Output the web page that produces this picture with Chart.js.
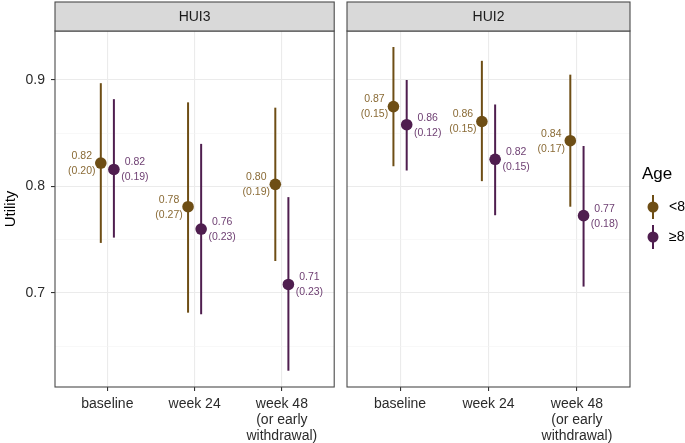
<!DOCTYPE html>
<html>
<head>
<meta charset="utf-8">
<script src="https://cdn.jsdelivr.net/npm/chart.js@4"></script>
<style>
  html, body { margin: 0; padding: 0; background: #fff; }
  #wrap { position: relative; width: 685px; height: 443px; overflow: hidden; }
  canvas { position: absolute; top: 0; }
  #c1 { left: 0; }
  #c2 { left: 340px; }
</style>
</head>
<body>
<div id="wrap">
  <canvas id="c1" width="340" height="443"></canvas>
  <canvas id="c2" width="345" height="443"></canvas>
</div>
<script>
// ---------- data ----------
const categories = ['baseline', 'week 24', ['week 48', '(or early', 'withdrawal)']];
const panels = ['HUI3', 'HUI2'];
const ageGroups = ['<8', '\u22658'];
const yTicks = [0.65, 0.7, 0.75, 0.8, 0.85, 0.9];
const yMajor = [0.7, 0.8, 0.9];

// HUI3
const hui3MeanLt8 = [0.822, 0.781, 0.802];
const hui3LowLt8  = [0.747, 0.6815, 0.730];
const hui3HighLt8 = [0.897, 0.879, 0.874];
const hui3MeanGe8 = [0.816, 0.760, 0.708];
const hui3LowGe8  = [0.752, 0.680, 0.627];
const hui3HighGe8 = [0.882, 0.840, 0.790];
const hui3LblLt8  = ['0.82', '0.78', '0.80'];
const hui3SdLt8   = ['(0.20)', '(0.27)', '(0.19)'];
const hui3LblGe8  = ['0.82', '0.76', '0.71'];
const hui3SdGe8   = ['(0.19)', '(0.23)', '(0.23)'];

// HUI2
const hui2MeanLt8 = [0.875, 0.861, 0.843];
const hui2LowLt8  = [0.819, 0.805, 0.781];
const hui2HighLt8 = [0.931, 0.918, 0.905];
const hui2MeanGe8 = [0.858, 0.8255, 0.7726];
const hui2LowGe8  = [0.815, 0.773, 0.706];
const hui2HighGe8 = [0.900, 0.877, 0.838];
const hui2LblLt8  = ['0.87', '0.86', '0.84'];
const hui2SdLt8   = ['(0.15)', '(0.15)', '(0.17)'];
const hui2LblGe8  = ['0.86', '0.82', '0.77'];
const hui2SdGe8   = ['(0.12)', '(0.15)', '(0.18)'];

// ---------- styling ----------
const FONT = '"Liberation Sans", Arial, Helvetica, sans-serif';
const COL_LT = '#6E4E15';
const COL_GE = '#4F1E4F';
const TXT_LT = '#8A6B36';
const TXT_GE = '#6E3F72';
const DODGE = 0.075;
const Y_MIN = 0.6117, Y_MAX = 0.946;

function makeSeries(mean, low, high, lbl, sd, color, txt, side) {
  return { mean, low, high, lbl, sd, color, txt, side };
}

function panelPlugin(title, series, withLegend) {
  return {
    id: 'panel_' + title,
    beforeDatasetsDraw(chart) {
      const ctx = chart.ctx, xs = chart.scales.x, ys = chart.scales.y;
      ctx.save();
      ctx.lineWidth = 2;
      ctx.lineCap = 'butt';
      series.forEach(s => {
        ctx.strokeStyle = s.color;
        s.mean.forEach((m, i) => {
          const px = xs.getPixelForValue(i + 1 + s.side * DODGE);
          ctx.beginPath();
          ctx.moveTo(px, ys.getPixelForValue(s.low[i]));
          ctx.lineTo(px, ys.getPixelForValue(s.high[i]));
          ctx.stroke();
        });
      });
      ctx.restore();
    },
    afterDatasetsDraw(chart) {
      const ctx = chart.ctx, xs = chart.scales.x, ys = chart.scales.y;
      ctx.save();
      ctx.font = '10.5px ' + FONT;
      ctx.textAlign = 'center';
      ctx.textBaseline = 'middle';
      series.forEach(s => {
        ctx.fillStyle = s.txt;
        s.mean.forEach((m, i) => {
          const px = xs.getPixelForValue(i + 1 + s.side * DODGE);
          const py = ys.getPixelForValue(m);
          const lx = px + (s.side < 0 ? -19 : 21);
          ctx.fillText(s.lbl[i], lx, py - 7);
          ctx.fillText(s.sd[i], lx, py + 8);
        });
      });
      ctx.restore();
    },
    afterDraw(chart) {
      const ctx = chart.ctx, a = chart.chartArea;
      ctx.save();
      // panel border
      ctx.strokeStyle = '#4a4a4a';
      ctx.lineWidth = 1.1;
      ctx.strokeRect(a.left, a.top, a.right - a.left, a.bottom - a.top);
      // strip
      ctx.fillStyle = '#D9D9D9';
      ctx.fillRect(a.left, 2, a.right - a.left, a.top - 2);
      ctx.strokeRect(a.left, 2, a.right - a.left, a.top - 2);
      ctx.fillStyle = '#1A1A1A';
      ctx.font = '14px ' + FONT;
      ctx.textAlign = 'center';
      ctx.textBaseline = 'middle';
      ctx.fillText(title, (a.left + a.right) / 2, (2 + a.top) / 2 + 1);
      if (withLegend) {
        const lx = a.right + 12;
        ctx.textAlign = 'left';
        ctx.fillStyle = '#000';
        ctx.font = '17px ' + FONT;
        ctx.fillText('Age', lx, 174);
        const keyX = lx + 11;
        const keyY = [207, 237];
        series.forEach((s, k) => {
          ctx.strokeStyle = s.color;
          ctx.lineWidth = 2;
          ctx.beginPath();
          ctx.moveTo(keyX, keyY[k] - 12);
          ctx.lineTo(keyX, keyY[k] + 12);
          ctx.stroke();
          ctx.fillStyle = s.color;
          ctx.beginPath();
          ctx.arc(keyX, keyY[k], 5.5, 0, Math.PI * 2);
          ctx.fill();
          ctx.fillStyle = '#000';
          ctx.font = '14px ' + FONT;
          ctx.fillText(ageGroups[k], keyX + 5 + 11, keyY[k]);
        });
      }
      ctx.restore();
    }
  };
}

function buildChart(id, title, series, isLeft) {
  const datasets = series.map((s, k) => ({
    label: ageGroups[k],
    data: s.mean.map((m, i) => ({ x: i + 1 + s.side * DODGE, y: m })),
    backgroundColor: s.color,
    borderColor: s.color,
    borderWidth: 0,
    pointRadius: 5.8,
    pointHoverRadius: 5.8,
    showLine: false
  }));
  return new Chart(document.getElementById(id), {
    type: 'scatter',
    data: { datasets },
    options: {
      responsive: false,
      animation: false,
      events: [],
      layout: { padding: { top: 31, right: isLeft ? 3 : 55, left: 0, bottom: 0 } },
      plugins: { legend: { display: false }, tooltip: { enabled: false } },
      scales: {
        x: {
          type: 'linear',
          min: 0.4, max: 3.6,
          afterBuildTicks(scale) { scale.ticks = categories.map((c, i) => ({ value: i + 1 })); },
          afterFit(scale) { scale.height = 56; },
          ticks: {
            autoSkip: false,
            maxRotation: 0,
            padding: 5,
            color: '#2b2b2b',
            font: { family: FONT, size: 14, lineHeight: 1.15 },
            callback: (v) => categories[Math.round(v) - 1]
          },
          grid: {
            color: '#EBEBEB', lineWidth: 1.1,
            tickColor: '#333333', tickLength: 4, tickWidth: 1.1
          },
          border: { display: false }
        },
        y: {
          type: 'linear',
          min: Y_MIN, max: Y_MAX,
          afterBuildTicks(scale) { scale.ticks = yTicks.map(v => ({ value: v })); },
          afterFit(scale) { scale.width = isLeft ? 55 : 7; },
          title: isLeft ? {
            display: true, text: 'Utility', color: '#000',
            font: { family: FONT, size: 15 }, padding: { top: 2, bottom: 0 }
          } : { display: false },
          ticks: {
            display: isLeft,
            autoSkip: false,
            padding: 6,
            color: '#2b2b2b',
            font: { family: FONT, size: 14 },
            callback: (v) => yMajor.some(m => Math.abs(m - v) < 1e-9) ? String(v) : ''
          },
          grid: {
            color: (c) => (c.tick && yMajor.some(m => Math.abs(m - c.tick.value) < 1e-9)) ? '#EBEBEB' : '#F3F3F3',
            lineWidth: (c) => (c.tick && yMajor.some(m => Math.abs(m - c.tick.value) < 1e-9)) ? 1.1 : 0.6,
            drawTicks: isLeft,
            tickLength: 4,
            tickWidth: 1.1,
            tickColor: (c) => (c.tick && yMajor.some(m => Math.abs(m - c.tick.value) < 1e-9)) ? '#333333' : 'rgba(0,0,0,0)'
          },
          border: { display: false }
        }
      }
    },
    plugins: [panelPlugin(title, series, !isLeft)]
  });
}

const hui3Series = [
  makeSeries(hui3MeanLt8, hui3LowLt8, hui3HighLt8, hui3LblLt8, hui3SdLt8, COL_LT, TXT_LT, -1),
  makeSeries(hui3MeanGe8, hui3LowGe8, hui3HighGe8, hui3LblGe8, hui3SdGe8, COL_GE, TXT_GE, 1)
];
const hui2Series = [
  makeSeries(hui2MeanLt8, hui2LowLt8, hui2HighLt8, hui2LblLt8, hui2SdLt8, COL_LT, TXT_LT, -1),
  makeSeries(hui2MeanGe8, hui2LowGe8, hui2HighGe8, hui2LblGe8, hui2SdGe8, COL_GE, TXT_GE, 1)
];

buildChart('c1', panels[0], hui3Series, true);
buildChart('c2', panels[1], hui2Series, false);
</script>
</body>
</html>
